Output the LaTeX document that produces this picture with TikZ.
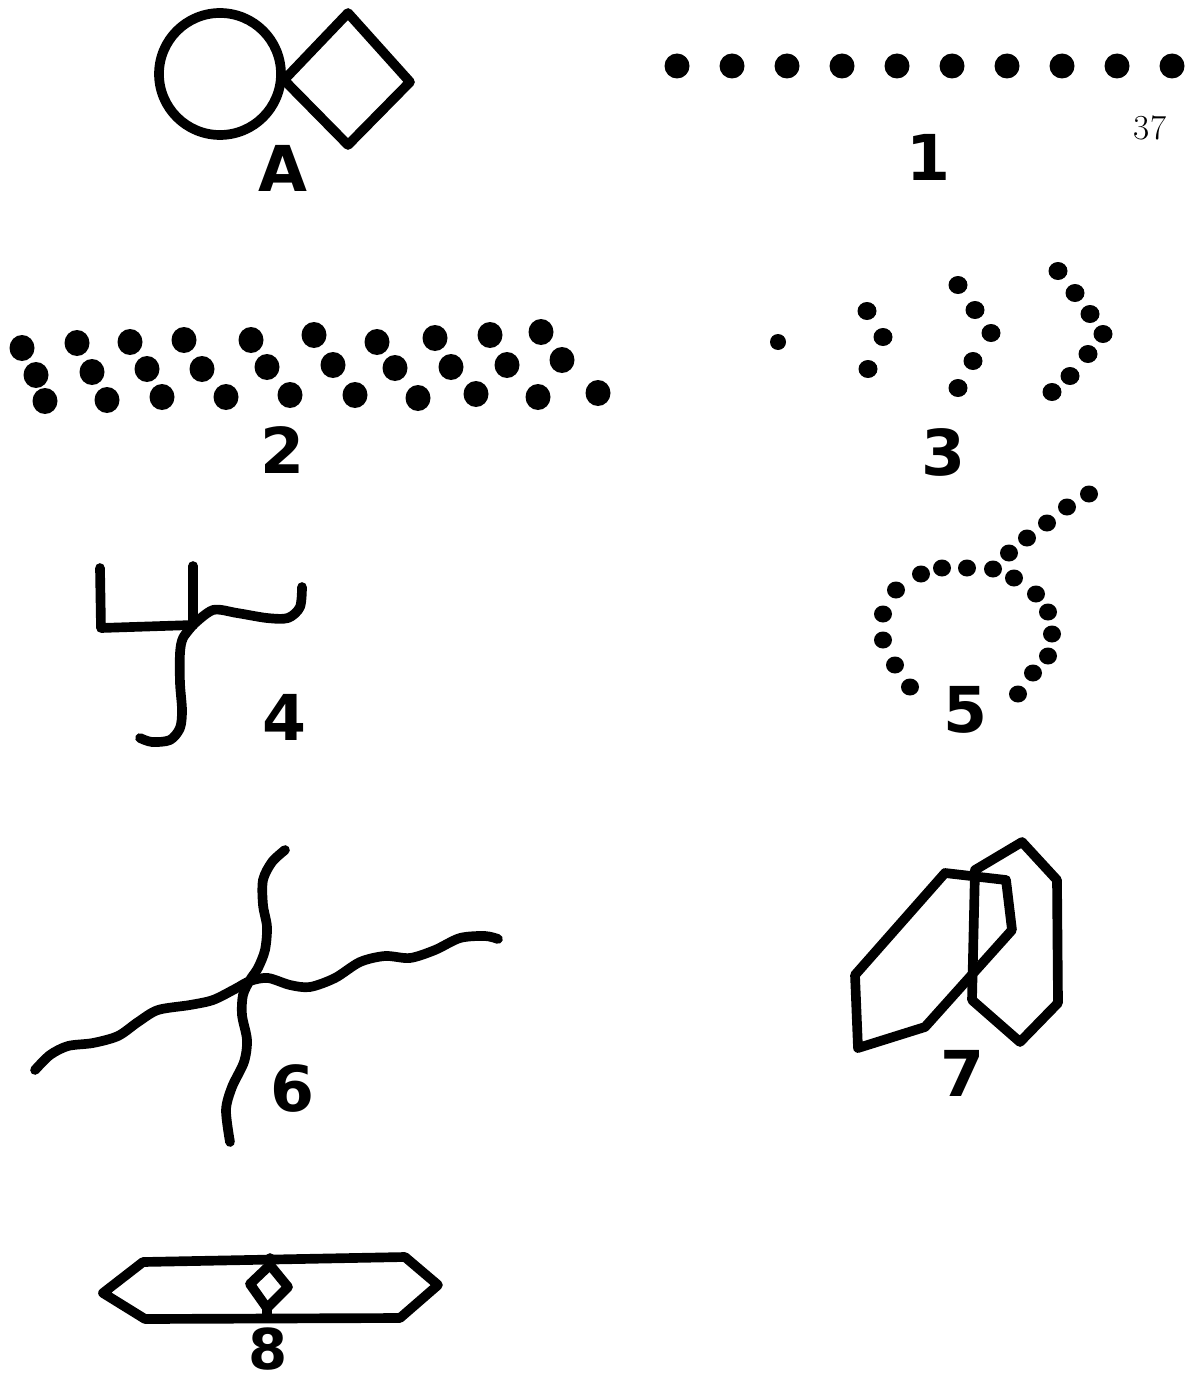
\documentclass[tikz,border=0pt]{standalone}
\usepackage{fontspec}
\newfontfamily\labelfont{DejaVu Sans}
\tikzset{
  stroke/.style={line width=5.5pt, line cap=round, line join=round},
  figlabel/.style={font=\labelfont\bfseries\fontsize{36}{36}\selectfont, inner sep=0pt},
}
\begin{document}
\begin{tikzpicture}[x=0.02cm, y=-0.02cm]
			\useasboundingbox (0,0) rectangle (1203,1382);
			% figure A
			\draw[stroke] (220,74) circle (61);
			\draw[stroke] (284,80) -- (348,13) -- (410,82) -- (348,145) -- cycle;
			\node[figlabel] (lblA) at (283,168) {A};
			% figure 1
			\foreach \i in {0,...,9}
				\fill (677+55*\i,66) circle (12.5);
			\node[figlabel] (lbl1) at (928,157) {1};
			\node[font=\fontsize{20}{20}\selectfont, inner sep=0pt] (pagenum) at (1150,128) {37};
			% figure 2
			\foreach \x/\y in {22/348, 77/343, 130/342, 184/340, 251/340, 314/335, 377/342, 435/338, 490/335, 541/332,
				36/375, 92/372, 147/369, 202/369, 267/367, 333/365, 395/368, 451/367, 507/365, 562/360,
				45/401, 107/400, 162/397, 226/397, 290/395, 355/395, 418/398, 476/394, 538/397, 598/393}
				\fill (\x,\y) ellipse (12.5 and 13);
			\node[figlabel] (lbl2) at (283,450) {2};
			% figure 3
			\fill (778,342) circle (8);
			\foreach \x/\y in {867/311, 883/337, 868/369, 958/285, 975/310, 991/333, 973/361, 958/388,
				1058/271, 1075/293, 1090/314, 1103/334, 1088/354, 1070/376, 1052/392}
				\fill (\x,\y) ellipse (9.5 and 9);
			\node[figlabel] (lbl3) at (943,452) {3};
			% figure 4
			\draw[stroke] (100,568) -- (101,628) -- (193,625);
			\draw[stroke] (193,566) -- (193,625);
			\draw[stroke] plot[smooth] coordinates {(193,625) (213,610) (237,613) (267,618) (288,618) (300,607) (302,587)};
			\draw[stroke] plot[smooth] coordinates {(193,625) (183,638) (180,653) (180,683) (182,710) (180,728) (170,740) (152,742) (140,738)};
			\node[figlabel] (lbl4) at (285,717) {4};
			% figure 5
			\foreach \x/\y in {910/687, 895/665, 883/640, 883/614, 896/590, 921/574, 942/568, 967/568, 993/569,
				1014/578, 1036/594, 1048/612, 1052/634, 1048/656, 1033/673, 1018/694,
				1009/553, 1027/538, 1047/523, 1067/507, 1089/494}
				\fill (\x,\y) ellipse (9 and 8.5);
			\node[figlabel] (lbl5) at (965,710) {5};
			% figure 6
			\draw[stroke] plot[smooth] coordinates {(285,850) (272,862) (263,880) (263,905) (267,927) (265,950) (258,968) (250,980)
				(243,995) (242,1015) (247,1040) (244,1062) (232,1087) (226,1110) (230,1142)};
			\draw[stroke] plot[smooth] coordinates {(35,1070) (50,1055) (68,1046) (93,1043) (118,1036) (138,1022) (158,1010) (190,1005)
				(213,1000) (235,989) (250,981) (268,978) (290,985) (310,987) (335,978) (360,962) (385,956) (410,958)
				(435,950) (460,938) (485,936) (498,939)};
			\node[figlabel] (lbl6) at (292,1088) {6};
			% figure 7
			\draw[stroke] (858,1048) -- (855,975) -- (945,873) -- (1006,880) -- (1012,930) -- (925,1027) -- cycle;
			\draw[stroke] (972,1000) -- (975,870) -- (1022,842) -- (1057,880) -- (1058,1003) -- (1020,1042) -- cycle;
			\node[figlabel] (lbl7) at (962,1073) {7};
			% figure 8
			\draw[stroke] (103,1293) -- (143,1262) -- (405,1257) -- (438,1285) -- (400,1318) -- (145,1319) -- cycle;
			\draw[stroke] (270,1258) -- (270,1265) -- (288,1287) -- (267,1308) -- (250,1284) -- (270,1265);
			\draw[stroke] (267,1308) -- (267,1318);
			\node[figlabel, font=\labelfont\bfseries\fontsize{32}{32}\selectfont] (lbl8) at (268,1349) {8};
		\end{tikzpicture}
\end{document}
